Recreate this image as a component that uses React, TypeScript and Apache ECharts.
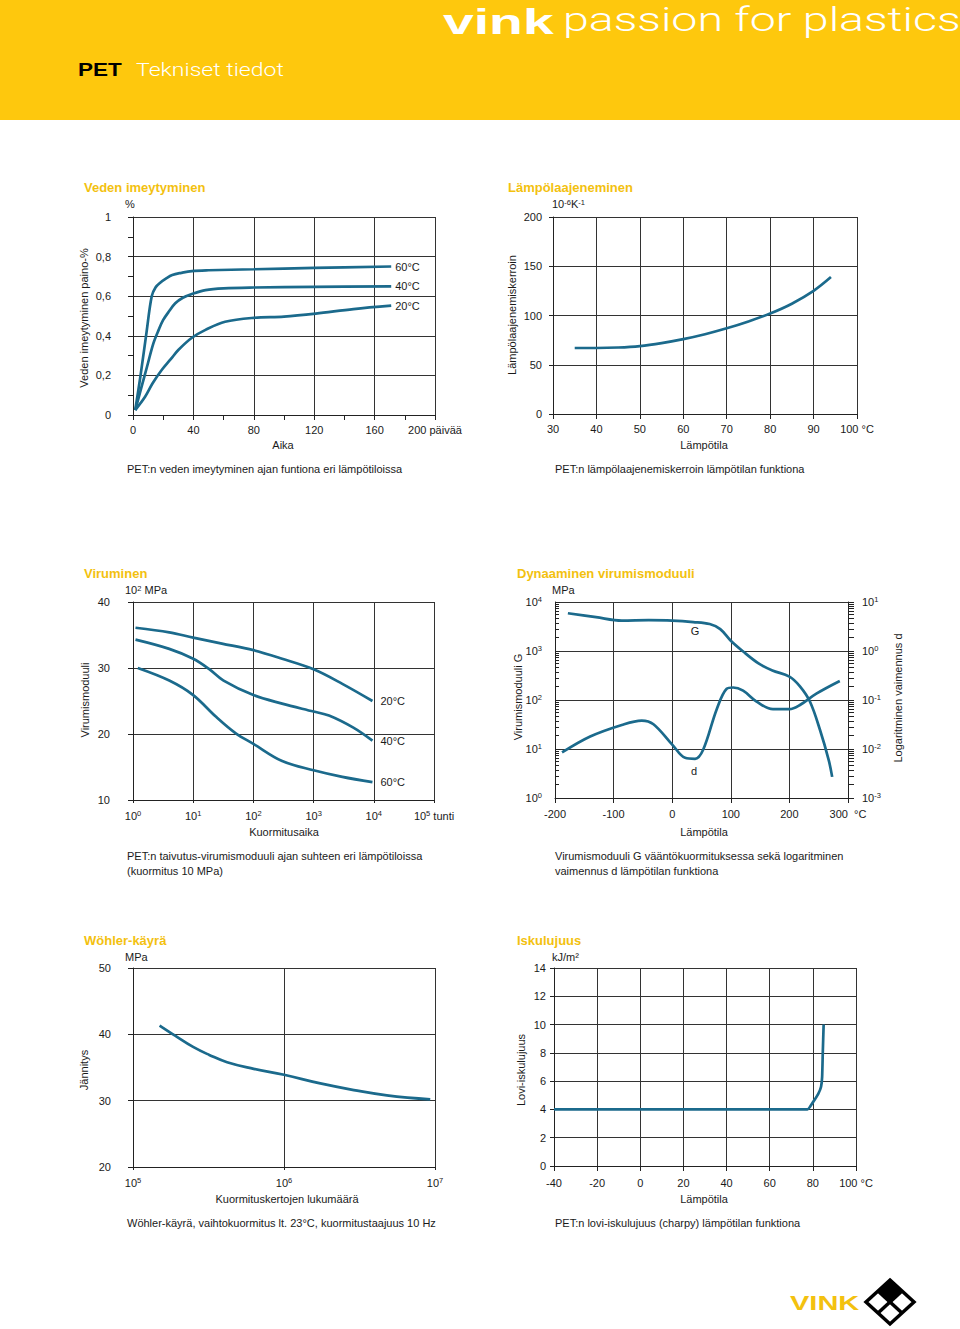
import React, { useEffect, useRef } from 'react';
import * as echarts from 'echarts';

const FONT = '"Liberation Sans", Arial, Helvetica, sans-serif';
const LINE_COLOR = '#1b6a8c';
const TEXT = '#1a1a1a';
const HEADER_YELLOW = '#fec80d';
const TITLE_YELLOW = '#f3c10f';

// ---------- Chart 1: Veden imeytyminen (days, %) ----------
const imeyNames = ['60°C', '40°C', '20°C'];
const imey60 = [[1.5, 0.025], [5, 0.2], [9, 0.42], [12.4, 0.6], [15, 0.645], [18, 0.668], [22, 0.69], [26, 0.707], [32, 0.718], [39, 0.727], [50, 0.731], [80, 0.736], [120, 0.743], [171, 0.75]];
const imey40 = [[1.5, 0.025], [5.7, 0.143], [9.5, 0.25], [13.5, 0.362], [17, 0.43], [20, 0.48], [24, 0.525], [28, 0.564], [33, 0.592], [39, 0.611], [48, 0.631], [60, 0.64], [80, 0.644], [120, 0.647], [171, 0.65]];
const imey20 = [[1.5, 0.025], [8, 0.092], [13, 0.16], [19, 0.227], [25, 0.282], [30, 0.328], [39, 0.39], [48, 0.43], [61, 0.471], [80, 0.491], [100, 0.497], [121, 0.512], [146, 0.535], [171, 0.552]];
const imeyYLabels = ['0', '0,2', '0,4', '0,6', '0,8', '1'];

// ---------- Chart 2: Lämpölaajeneminen (°C, 10^-6 K^-1) ----------
const laaj = [[35, 67], [40, 67], [45, 67.5], [50, 69], [55, 72], [60, 76], [65, 81], [70, 87], [75, 94], [80, 102], [85, 112], [90, 125], [94, 139]];

// ---------- Chart 3: Viruminen (h, 10^2 MPa) ----------
const virNames = ['20°C', '40°C', '60°C'];
const vir20 = [[1.1, 36.1], [4, 35.4], [10, 34.6], [30, 33.7], [100, 32.7], [300, 31.4], [1000, 29.8], [3000, 27.6], [9500, 25.0]];
const vir40 = [[1.1, 34.3], [4, 32.9], [10, 31.4], [18, 29.9], [32, 28.1], [100, 25.9], [300, 24.6], [1000, 23.4], [1800, 22.8], [4500, 21.0], [9500, 19.0]];
const vir60 = [[1.2, 30.0], [4, 28.1], [10, 25.9], [24, 22.6], [51, 20.1], [100, 18.5], [300, 15.9], [1000, 14.5], [3000, 13.5], [9500, 12.7]];

// ---------- Chart 4: Dynaaminen virumismoduuli (°C, MPa / d) ----------
const dynG = [[-178, 5900], [-130, 4900], [-86, 4170], [-40, 4250], [0, 4170], [36, 3900], [64, 3550], [82, 2800], [100, 1620], [120, 1000], [148, 550], [171, 400], [200, 300], [218, 190], [235, 93], [252, 25], [267, 6], [273, 2.7]];
const dynD = [[-188, 0.0085], [-140, 0.018], [-86, 0.031], [-52, 0.038], [-32, 0.032], [0, 0.0123], [22, 0.0066], [39, 0.0063], [53, 0.0098], [76, 0.065], [93, 0.17], [104, 0.18], [121, 0.155], [144, 0.093], [172, 0.065], [200, 0.065], [218, 0.079], [246, 0.135], [286, 0.245]];

// ---------- Chart 5: Wöhler-käyrä (cycles, MPa) ----------
const wohler = [[1.5e5, 41.3], [1.9e5, 39.8], [2.5e5, 38.1], [3.2e5, 36.9], [4.2e5, 35.8], [6.3e5, 34.8], [1e6, 33.9], [1.74e6, 32.6], [2.9e6, 31.6], [4.8e6, 30.8], [9.3e6, 30.2]];

// ---------- Chart 6: Iskulujuus (°C, kJ/m2) ----------
const isku = [[-40, 4], [77.5, 4], [80, 4.5], [82.5, 5.1], [83.8, 5.6], [84.3, 6.3], [84.6, 8], [85, 10]];

const supStyle = { fontSize: 7.5, verticalAlign: 'top', lineHeight: 8, fontFamily: FONT, color: TEXT, fill: TEXT };
const logLabel = (v: number) => `10{s|${Math.round(Math.log10(v))}}`;

function mkAxis(p: any) {
  return {
    gridIndex: p.grid,
    type: p.type || 'value',
    position: p.position,
    min: p.min,
    max: p.max,
    interval: p.interval,
    logBase: p.type === 'log' ? 10 : undefined,
    axisLine: { show: true, onZero: false, lineStyle: { color: '#222', width: 1 } },
    axisTick: { show: true, inside: !!p.tickInside, length: p.tickLen ?? 5, lineStyle: { color: '#222', width: 1 } },
    minorTick: p.minor
      ? { show: true, splitNumber: p.minor, length: p.minorLen ?? 5, lineStyle: { color: '#222', width: 1 } }
      : { show: false },
    splitLine: { show: p.split !== false, lineStyle: { color: '#333', width: 1 } },
    minorSplitLine: { show: false },
    axisLabel: {
      show: true,
      color: TEXT,
      fontSize: 11,
      fontFamily: FONT,
      margin: p.margin ?? 9,
      formatter: p.formatter,
      rich: p.rich,
      lineHeight: p.rich ? 14 : undefined,
      showMinLabel: true,
      showMaxLabel: true,
      hideOverlap: false,
    },
  };
}

function mkLine(name: string, data: any[], xi: number, yi: number, endLabel?: any) {
  return {
    type: 'line',
    name,
    data,
    xAxisIndex: xi,
    yAxisIndex: yi,
    showSymbol: false,
    symbol: 'none',
    smooth: 0.35,
    lineStyle: { color: LINE_COLOR, width: 2.7 },
    itemStyle: { color: LINE_COLOR },
    endLabel: endLabel
      ? { show: true, formatter: '{a}', color: TEXT, fontSize: 11, fontFamily: FONT, distance: endLabel }
      : { show: false },
    z: 5,
  };
}

function T(x: number, y: number, text: string, o: any = {}) {
  return {
    type: 'text',
    x,
    y,
    rotation: o.rot || 0,
    scaleX: o.sx || 1,
    silent: true,
    style: {
      text,
      fill: o.fill || TEXT,
      fontSize: o.size || 11,
      fontWeight: o.weight || 'normal',
      fontFamily: o.family || FONT,
      align: o.align || 'left',
      verticalAlign: 'middle',
      textAlign: o.align || 'left',
      textVerticalAlign: 'middle',
      rich: o.rich,
    },
  };
}

function buildOption() {
  const grids = [
    { left: 133, top: 217, width: 302, height: 198 },
    { left: 553, top: 217, width: 304, height: 197 },
    { left: 133, top: 602, width: 301, height: 198 },
    { left: 555, top: 602, width: 293, height: 196 },
    { left: 133, top: 968, width: 302, height: 199 },
    { left: 554, top: 968, width: 302, height: 198 },
  ].map((g) => ({ ...g, containLabel: false, outerBoundsMode: 'none', show: false }));

  const xAxis = [
    mkAxis({ grid: 0, min: 0, max: 200, interval: 40, minor: 2, formatter: (v: number) => (v === 200 ? '200 päivää' : String(v)) }),
    mkAxis({ grid: 1, min: 30, max: 100, interval: 10, formatter: (v: number) => (v === 100 ? '100 °C' : String(v)) }),
    mkAxis({ grid: 2, type: 'log', min: 1, max: 1e5, formatter: (v: number) => (Math.round(Math.log10(v)) === 5 ? '10{s|5} tunti' : logLabel(v)), rich: { s: supStyle }, tickLen: 3 }),
    mkAxis({ grid: 3, min: -200, max: 300, interval: 100, margin: 10, formatter: (v: number) => (v === 300 ? '300  °C' : String(v)) }),
    mkAxis({ grid: 4, type: 'log', min: 1e5, max: 1e7, formatter: logLabel, rich: { s: supStyle }, tickLen: 3 }),
    mkAxis({ grid: 5, min: -40, max: 100, interval: 20, margin: 11, formatter: (v: number) => (v === 100 ? '100 °C' : String(v)) }),
  ];

  const yAxis = [
    mkAxis({ grid: 0, min: 0, max: 1, interval: 0.2, minor: 2, margin: 22, formatter: (v: number) => imeyYLabels[Math.round(v / 0.2)] }),
    mkAxis({ grid: 1, min: 0, max: 200, interval: 50, margin: 11, tickLen: 4 }),
    mkAxis({ grid: 2, min: 10, max: 40, interval: 10, margin: 23 }),
    mkAxis({ grid: 3, type: 'log', min: 1, max: 1e4, margin: 13, formatter: logLabel, rich: { s: supStyle }, tickInside: true, tickLen: 5, minor: 10, minorLen: 4 }),
    mkAxis({ grid: 3, type: 'log', position: 'right', min: 0.001, max: 10, margin: 14, formatter: logLabel, rich: { s: supStyle }, tickLen: 6, minor: 10, minorLen: 6, split: false }),
    mkAxis({ grid: 4, min: 20, max: 50, interval: 10, margin: 22 }),
    mkAxis({ grid: 5, min: 0, max: 14, interval: 2, margin: 8, tickLen: 4 }),
  ];

  const series = [
    mkLine(imeyNames[0], imey60, 0, 0, 4),
    mkLine(imeyNames[1], imey40, 0, 0, 4),
    mkLine(imeyNames[2], imey20, 0, 0, 4),
    mkLine('laaj', laaj, 1, 1),
    mkLine(virNames[0], vir20, 2, 2, 8),
    mkLine(virNames[1], vir40, 2, 2, 8),
    mkLine(virNames[2], vir60, 2, 2, 8),
    mkLine('G', dynG, 3, 3),
    mkLine('d', dynD, 3, 4),
    { ...mkLine('wohler', wohler, 4, 5), smooth: 0.45 },
    { ...mkLine('isku', isku, 5, 6), smooth: 0.15 },
  ];

  const unitRich = { s: { ...supStyle } };
  const lightFamily = 'Roboto, "Liberation Sans", Arial, sans-serif';
  const elements: any[] = [
    // header
    { type: 'rect', shape: { x: 0, y: 0, width: 960, height: 120 }, style: { fill: HEADER_YELLOW }, silent: true },
    T(443, 22, 'vink', { fill: '#ffffff', size: 35, weight: 'bold', sx: 1.58 }),
    T(563, 20, 'passion for plastics', { fill: '#ffffff', size: 33, weight: 300, family: lightFamily, sx: 1.41 }),
    T(78, 70, 'PET', { fill: '#000000', size: 18, weight: 'bold', sx: 1.25 }),
    T(136, 70, 'Tekniset tiedot', { fill: '#ffffff', size: 18, weight: 300, family: lightFamily, sx: 1.28 }),

    // titles
    T(84, 187, 'Veden imeytyminen', { fill: TITLE_YELLOW, size: 13, weight: 'bold' }),
    T(508, 187, 'Lämpölaajeneminen', { fill: TITLE_YELLOW, size: 13, weight: 'bold' }),
    T(84, 573, 'Viruminen', { fill: TITLE_YELLOW, size: 13, weight: 'bold' }),
    T(517, 573, 'Dynaaminen virumismoduuli', { fill: TITLE_YELLOW, size: 13, weight: 'bold' }),
    T(84, 940, 'Wöhler-käyrä', { fill: TITLE_YELLOW, size: 13, weight: 'bold' }),
    T(517, 940, 'Iskulujuus', { fill: TITLE_YELLOW, size: 13, weight: 'bold' }),

    // units
    T(125, 204, '%'),
    T(552, 204, '10{s|-6}K{s|-1}', { rich: unitRich }),
    T(125, 590, '10{s|2} MPa', { rich: unitRich }),
    T(552, 590, 'MPa'),
    T(125, 957, 'MPa'),
    T(552, 957, 'kJ/m²'),

    // x axis names
    T(283, 445, 'Aika', { align: 'center' }),
    T(704, 445, 'Lämpötila', { align: 'center' }),
    T(284, 832, 'Kuormitusaika', { align: 'center' }),
    T(704, 832, 'Lämpötila', { align: 'center' }),
    T(287, 1199, 'Kuormituskertojen lukumäärä', { align: 'center' }),
    T(704, 1199, 'Lämpötila', { align: 'center' }),

    // y axis names (rotated)
    T(84, 318, 'Veden imeytyminen paino-%', { align: 'center', rot: Math.PI / 2 }),
    T(512, 315, 'Lämpölaajenemiskerroin', { align: 'center', rot: Math.PI / 2 }),
    T(85, 700, 'Virumismoduuli', { align: 'center', rot: Math.PI / 2 }),
    T(518, 697, 'Virumismoduuli G', { align: 'center', rot: Math.PI / 2 }),
    T(898, 698, 'Logaritminen vaimennus d', { align: 'center', rot: Math.PI / 2 }),
    T(84, 1070, 'Jännitys', { align: 'center', rot: Math.PI / 2 }),
    T(521, 1070, 'Lovi-iskulujuus', { align: 'center', rot: Math.PI / 2 }),

    // curve labels chart 4
    T(695, 631, 'G', { align: 'center' }),
    T(694, 771, 'd', { align: 'center' }),

    // captions
    T(127, 469, 'PET:n veden imeytyminen ajan funtiona eri lämpötiloissa'),
    T(555, 469, 'PET:n lämpölaajenemiskerroin lämpötilan funktiona'),
    T(127, 856, 'PET:n taivutus-virumismoduuli ajan suhteen eri lämpötiloissa'),
    T(127, 871, '(kuormitus 10 MPa)'),
    T(555, 856, 'Virumismoduuli G vääntökuormituksessa sekä logaritminen'),
    T(555, 871, 'vaimennus d lämpötilan funktiona'),
    T(127, 1223, 'Wöhler-käyrä, vaihtokuormitus lt. 23°C, kuormitustaajuus 10 Hz'),
    T(555, 1223, 'PET:n lovi-iskulujuus (charpy) lämpötilan funktiona'),

    // logo
    T(790, 1303, 'VINK', { fill: TITLE_YELLOW, size: 20, weight: 'bold', sx: 1.45 }),
    { type: 'polygon', shape: { points: [[890, 1280], [902, 1291], [890, 1302], [878, 1291]] }, style: { fill: '#000', stroke: '#000', lineWidth: 1 }, silent: true },
    { type: 'polygon', shape: { points: [[890, 1280], [914, 1302], [890, 1324], [866, 1302]] }, style: { fill: 'none', stroke: '#000', lineWidth: 3.5 }, silent: true },
    { type: 'line', shape: { x1: 878, y1: 1291, x2: 902, y2: 1313 }, style: { stroke: '#000', lineWidth: 3.5 }, silent: true },
    { type: 'line', shape: { x1: 902, y1: 1291, x2: 878, y2: 1313 }, style: { stroke: '#000', lineWidth: 3.5 }, silent: true },
  ];

  return {
    animation: false,
    backgroundColor: '#ffffff',
    textStyle: { fontFamily: FONT },
    grid: grids,
    xAxis,
    yAxis,
    series,
    graphic: { elements },
  };
}

export default function App() {
  const ref = useRef<HTMLDivElement>(null);
  useEffect(() => {
    document.body.style.margin = '0';
    document.documentElement.style.overflow = 'hidden';
    if (!ref.current) return;
    const chart = echarts.init(ref.current, null, { renderer: 'svg' });
    chart.setOption(buildOption() as any);
    return () => chart.dispose();
  }, []);
  return <div ref={ref} style={{ width: 960, height: 1329 }} />;
}
